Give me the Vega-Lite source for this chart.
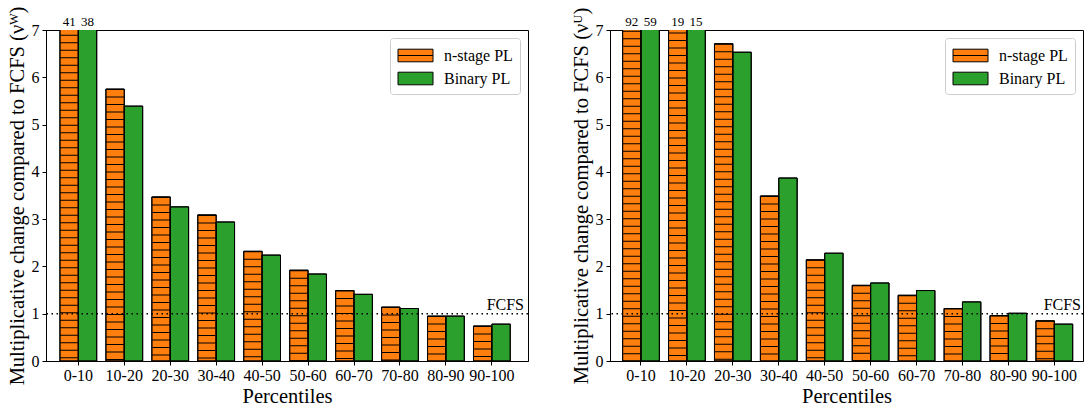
{
  "$schema": "https://vega.github.io/schema/vega-lite/v6.json",
  "background": "white",
  "padding": {"left": 6, "top": 5, "right": 0, "bottom": 0},
  "spacing": 40,
  "resolve": {"scale": {"color": "independent"}, "legend": {"color": "independent"}},
  "config": {
    "font": "Liberation Serif",
    "view": {"stroke": "black", "strokeWidth": 1},
    "axis": {"labelFont": "Liberation Serif", "labelFontSize": 16, "labelColor": "black", "titleFont": "Liberation Serif", "titleFontSize": 20.5, "titleFontWeight": "normal", "titleColor": "black", "domainColor": "black", "tickColor": "black", "tickSize": 4, "grid": false, "labelPadding": 3},
    "legend": {"orient": "top-right", "offset": 8, "fillColor": "white", "strokeColor": "#cccccc", "cornerRadius": 3, "padding": 7, "labelFont": "Liberation Serif", "labelFontSize": 16, "labelColor": "black", "symbolSize": 400, "symbolStrokeColor": "black", "symbolStrokeWidth": 1, "symbolOpacity": 1, "rowPadding": 4, "symbolOffset": 8, "labelOffset": 18, "title": null}
  },
  "datasets": {
    "W": [
      {"pct": "0-10", "series": "n-stage PL", "value": 41, "label": "41"},
      {"pct": "0-10", "series": "Binary PL", "value": 38, "label": "38"},
      {"pct": "10-20", "series": "n-stage PL", "value": 5.75},
      {"pct": "10-20", "series": "Binary PL", "value": 5.39},
      {"pct": "20-30", "series": "n-stage PL", "value": 3.47},
      {"pct": "20-30", "series": "Binary PL", "value": 3.26},
      {"pct": "30-40", "series": "n-stage PL", "value": 3.09},
      {"pct": "30-40", "series": "Binary PL", "value": 2.94},
      {"pct": "40-50", "series": "n-stage PL", "value": 2.32},
      {"pct": "40-50", "series": "Binary PL", "value": 2.24},
      {"pct": "50-60", "series": "n-stage PL", "value": 1.92},
      {"pct": "50-60", "series": "Binary PL", "value": 1.84},
      {"pct": "60-70", "series": "n-stage PL", "value": 1.49},
      {"pct": "60-70", "series": "Binary PL", "value": 1.41},
      {"pct": "70-80", "series": "n-stage PL", "value": 1.14},
      {"pct": "70-80", "series": "Binary PL", "value": 1.11},
      {"pct": "80-90", "series": "n-stage PL", "value": 0.95},
      {"pct": "80-90", "series": "Binary PL", "value": 0.95},
      {"pct": "90-100", "series": "n-stage PL", "value": 0.74},
      {"pct": "90-100", "series": "Binary PL", "value": 0.78}
    ],
    "U": [
      {"pct": "0-10", "series": "n-stage PL", "value": 92, "label": "92"},
      {"pct": "0-10", "series": "Binary PL", "value": 59, "label": "59"},
      {"pct": "10-20", "series": "n-stage PL", "value": 19, "label": "19"},
      {"pct": "10-20", "series": "Binary PL", "value": 15, "label": "15"},
      {"pct": "20-30", "series": "n-stage PL", "value": 6.71},
      {"pct": "20-30", "series": "Binary PL", "value": 6.53},
      {"pct": "30-40", "series": "n-stage PL", "value": 3.49},
      {"pct": "30-40", "series": "Binary PL", "value": 3.87},
      {"pct": "40-50", "series": "n-stage PL", "value": 2.14},
      {"pct": "40-50", "series": "Binary PL", "value": 2.28},
      {"pct": "50-60", "series": "n-stage PL", "value": 1.6},
      {"pct": "50-60", "series": "Binary PL", "value": 1.65},
      {"pct": "60-70", "series": "n-stage PL", "value": 1.39},
      {"pct": "60-70", "series": "Binary PL", "value": 1.49},
      {"pct": "70-80", "series": "n-stage PL", "value": 1.11},
      {"pct": "70-80", "series": "Binary PL", "value": 1.25},
      {"pct": "80-90", "series": "n-stage PL", "value": 0.96},
      {"pct": "80-90", "series": "Binary PL", "value": 1.01},
      {"pct": "90-100", "series": "n-stage PL", "value": 0.85},
      {"pct": "90-100", "series": "Binary PL", "value": 0.78}
    ],
    "ref": [{"name": "FCFS", "level": 1}]
  },
  "hconcat": [
    {
      "width": 482,
      "height": 331,
      "layer": [
        {
          "data": {"name": "W"},
          "mark": {"type": "bar", "clip": true, "stroke": "black", "strokeWidth": 1},
          "encoding": {
            "x": {"field": "pct", "type": "nominal", "sort": null, "scale": {"paddingInner": 0.2, "paddingOuter": 0.345, "align": 0.44}, "axis": {"title": "Percentiles", "labelAngle": 0, "labelPadding": 2, "titlePadding": 3}},
            "xOffset": {"field": "series", "type": "nominal", "sort": null, "scale": {"domain": ["n-stage PL", "Binary PL"], "paddingInner": 0, "paddingOuter": 0}},
            "y": {"field": "value", "type": "quantitative", "scale": {"domain": [0, 7]}, "axis": {"title": "Multiplicative change compared to FCFS (νᵂ)", "values": [0, 1, 2, 3, 4, 5, 6, 7], "titlePadding": 4}},
            "color": {"field": "series", "type": "nominal", "sort": null, "scale": {"domain": ["n-stage PL", "Binary PL"], "range": ["#ff7f0e", "#2ca02c"]}, "legend": {"encode": {"symbols": {"update": {"shape": {"signal": "datum.value === 'n-stage PL' ? 'M-1.75,-0.63H1.75V0.63H-1.75Z M-1.75,0H1.75' : 'M-1.75,-0.63H1.75V0.63H-1.75Z'"}}}}}}
          }
        },
        {
          "data": {"name": "W"},
          "transform": [{"filter": "datum.series === 'n-stage PL'"}],
          "mark": {"type": "rule", "clip": true, "color": "black", "strokeWidth": 18.3, "strokeDash": [1, 6.5]},
          "encoding": {
            "x": {"field": "pct", "type": "nominal", "sort": null},
            "xOffset": {"field": "series", "type": "nominal", "sort": null},
            "y": {"field": "value", "type": "quantitative"},
            "y2": {"datum": 0}
          }
        },
        {
          "data": {"name": "W"},
          "mark": {"type": "bar", "clip": true, "fillOpacity": 0, "stroke": "black", "strokeWidth": 1},
          "encoding": {
            "x": {"field": "pct", "type": "nominal", "sort": null},
            "xOffset": {"field": "series", "type": "nominal", "sort": null},
            "y": {"field": "value", "type": "quantitative"}
          }
        },
        {
          "data": {"name": "W"},
          "transform": [{"filter": "datum.label != null"}],
          "mark": {"type": "text", "baseline": "alphabetic", "dy": -4, "fontSize": 13, "font": "Liberation Serif", "color": "black"},
          "encoding": {
            "x": {"field": "pct", "type": "nominal", "sort": null},
            "xOffset": {"field": "series", "type": "nominal", "sort": null},
            "y": {"datum": 7},
            "text": {"field": "label"}
          }
        },
        {
          "data": {"name": "ref"},
          "mark": {"type": "rule", "color": "black", "strokeDash": [1.5, 3.5], "strokeWidth": 1.5},
          "encoding": {"y": {"field": "level", "type": "quantitative"}}
        },
        {
          "data": {"name": "ref"},
          "mark": {"type": "text", "align": "right", "baseline": "alphabetic", "dx": -4, "dy": -4, "fontSize": 16, "font": "Liberation Serif", "color": "black"},
          "encoding": {"x": {"value": "width"}, "y": {"field": "level", "type": "quantitative"}, "text": {"field": "name"}}
        }
      ]
    },
    {
      "width": 473,
      "height": 331,
      "layer": [
        {
          "data": {"name": "U"},
          "mark": {"type": "bar", "clip": true, "stroke": "black", "strokeWidth": 1},
          "encoding": {
            "x": {"field": "pct", "type": "nominal", "sort": null, "scale": {"paddingInner": 0.2, "paddingOuter": 0.25, "align": 0.55}, "axis": {"title": "Percentiles", "labelAngle": 0, "labelPadding": 2, "titlePadding": 3}},
            "xOffset": {"field": "series", "type": "nominal", "sort": null, "scale": {"domain": ["n-stage PL", "Binary PL"], "paddingInner": 0, "paddingOuter": 0}},
            "y": {"field": "value", "type": "quantitative", "scale": {"domain": [0, 7]}, "axis": {"title": "Multiplicative change compared to FCFS (νᵁ)", "values": [0, 1, 2, 3, 4, 5, 6, 7], "titlePadding": 4}},
            "color": {"field": "series", "type": "nominal", "sort": null, "scale": {"domain": ["n-stage PL", "Binary PL"], "range": ["#ff7f0e", "#2ca02c"]}, "legend": {"encode": {"symbols": {"update": {"shape": {"signal": "datum.value === 'n-stage PL' ? 'M-1.75,-0.63H1.75V0.63H-1.75Z M-1.75,0H1.75' : 'M-1.75,-0.63H1.75V0.63H-1.75Z'"}}}}}}
          }
        },
        {
          "data": {"name": "U"},
          "transform": [{"filter": "datum.series === 'n-stage PL'"}],
          "mark": {"type": "rule", "clip": true, "color": "black", "strokeWidth": 18.3, "strokeDash": [1, 6.5]},
          "encoding": {
            "x": {"field": "pct", "type": "nominal", "sort": null},
            "xOffset": {"field": "series", "type": "nominal", "sort": null},
            "y": {"field": "value", "type": "quantitative"},
            "y2": {"datum": 0}
          }
        },
        {
          "data": {"name": "U"},
          "mark": {"type": "bar", "clip": true, "fillOpacity": 0, "stroke": "black", "strokeWidth": 1},
          "encoding": {
            "x": {"field": "pct", "type": "nominal", "sort": null},
            "xOffset": {"field": "series", "type": "nominal", "sort": null},
            "y": {"field": "value", "type": "quantitative"}
          }
        },
        {
          "data": {"name": "U"},
          "transform": [{"filter": "datum.label != null"}],
          "mark": {"type": "text", "baseline": "alphabetic", "dy": -4, "fontSize": 13, "font": "Liberation Serif", "color": "black"},
          "encoding": {
            "x": {"field": "pct", "type": "nominal", "sort": null},
            "xOffset": {"field": "series", "type": "nominal", "sort": null},
            "y": {"datum": 7},
            "text": {"field": "label"}
          }
        },
        {
          "data": {"name": "ref"},
          "mark": {"type": "rule", "color": "black", "strokeDash": [1.5, 3.5], "strokeWidth": 1.5},
          "encoding": {"y": {"field": "level", "type": "quantitative"}}
        },
        {
          "data": {"name": "ref"},
          "mark": {"type": "text", "align": "right", "baseline": "alphabetic", "dx": -2, "dy": -4, "fontSize": 16, "font": "Liberation Serif", "color": "black"},
          "encoding": {"x": {"value": "width"}, "y": {"field": "level", "type": "quantitative"}, "text": {"field": "name"}}
        }
      ]
    }
  ]
}
